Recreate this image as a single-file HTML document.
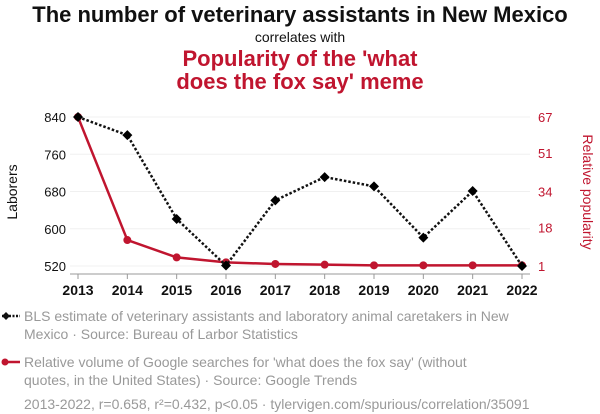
<!DOCTYPE html>
<html><head><meta charset="utf-8"><style>
body{margin:0;background:#fff;font-family:"Liberation Sans",sans-serif;}
svg{display:block}
</style></head><body>
<svg id="c" width="600" height="414" xmlns="http://www.w3.org/2000/svg">
<text x="300" y="22" text-anchor="middle" font-size="22" font-weight="bold" fill="#111">The number of veterinary assistants in New Mexico</text>
<text x="300" y="42" text-anchor="middle" font-size="14" fill="#111">correlates with</text>
<text x="300" y="66" text-anchor="middle" font-size="22" font-weight="bold" fill="#c0152f">Popularity of the 'what</text>
<text x="300" y="89" text-anchor="middle" font-size="22" font-weight="bold" fill="#c0152f">does the fox say' meme</text>
<g id="grid"></g>
<g id="axes"></g>
<g id="series"></g>
<text transform="translate(17,192) rotate(-90)" text-anchor="middle" font-size="14" fill="#111">Laborers</text>
<text transform="translate(583,192) rotate(90)" text-anchor="middle" font-size="14" fill="#c0152f">Relative popularity</text>
<g>
<line x1="2" y1="316" x2="20" y2="316" stroke="#111" stroke-width="2.5" stroke-dasharray="2,1.5"/>
<path d="M2,316 l4,-4 l4,4 l-4,4z" fill="#111"/>
<text x="24" y="321" font-size="14" fill="#999">BLS estimate of veterinary assistants and laboratory animal caretakers in New</text>
<text x="24" y="339" font-size="14" fill="#999">Mexico · Source: Bureau of Larbor Statistics</text>
</g>
<g>
<line x1="4" y1="362" x2="20" y2="362" stroke="#c0152f" stroke-width="2.5"/>
<circle cx="5" cy="362" r="3.5" fill="#c0152f"/>
<text x="24" y="367" font-size="14" fill="#999">Relative volume of Google searches for 'what does the fox say' (without</text>
<text x="24" y="385" font-size="14" fill="#999">quotes, in the United States) · Source: Google Trends</text>
</g>
<text x="24" y="409" font-size="14" fill="#999">2013-2022, r=0.658, r²=0.432, p&lt;0.05 · tylervigen.com/spurious/correlation/35091</text>
</svg>
<script>
const years=[2013,2014,2015,2016,2017,2018,2019,2020,2021,2022];
const laborers=[840,801,621,521,661,711,691,581,681,520];
const popularity=[67,12.5,4.8,2.6,1.9,1.6,1.3,1.3,1.3,1.3];
const leftTicks=[520,600,680,760,840];
const rightTicks=[1,18,34,51,67];
const NS="http://www.w3.org/2000/svg";
const x0=78,x1=522,yTop=117,yBot=266;
const xs=i=>x0+(x1-x0)*i/(years.length-1);
const yl=v=>yBot-(v-520)/(840-520)*(yBot-yTop);
const yr=v=>yBot-(v-1)/(67-1)*(yBot-yTop);
function mk(t,a,p){const e=document.createElementNS(NS,t);for(const k in a)e.setAttribute(k,a[k]);p.appendChild(e);return e;}
const grid=document.getElementById('grid'),axes=document.getElementById('axes'),ser=document.getElementById('series');
leftTicks.forEach((v,i)=>{
 const g=mk('line',{x1:70,x2:530,y1:yl(v),y2:yl(v),stroke:'#f0f0f0','stroke-width':1},grid);
 
 
 const t=mk('text',{x:66,y:yl(v)+5,'text-anchor':'end','font-size':13,fill:'#111'},axes);
 t.textContent=v;
 
 
});
rightTicks.forEach(v=>{
 const t=mk('text',{x:538,y:yr(v)+5,'text-anchor':'start','font-size':13,fill:'#c0152f'},axes);
 t.textContent=v;
 
 
});
const ax=mk('line',{x1:70,x2:530,y1:274,y2:274,stroke:'#999','stroke-width':1},axes);


years.forEach((y,i)=>{
 mk('line',{x1:xs(i),x2:xs(i),y1:274,y2:279,stroke:'#999'},axes);
 const t=mk('text',{x:xs(i),y:295,'text-anchor':'middle','font-size':14,'font-weight':'bold',fill:'#111'},axes);
 t.textContent=y;
 
 
});
const rl=mk('polyline',{points:popularity.map((v,i)=>xs(i)+','+yr(v)).join(' '),fill:'none',stroke:'#c0152f','stroke-width':2.5},ser);


popularity.forEach((v,i)=>{
 const c=mk('circle',{cx:xs(i),cy:yr(v),r:4,fill:'#c0152f'},ser);
 
 
});
const bl=mk('polyline',{points:laborers.map((v,i)=>xs(i)+','+yl(v)).join(' '),fill:'none',stroke:'#111','stroke-width':2.5,'stroke-dasharray':'2.5,2'},ser);


laborers.forEach((v,i)=>{
 const x=xs(i),y=yl(v);
 const d=mk('path',{d:`M${x-5},${y} L${x},${y-5} L${x+5},${y} L${x},${y+5}Z`,fill:'#000'},ser);
 
 
});
</script>
</body></html>
